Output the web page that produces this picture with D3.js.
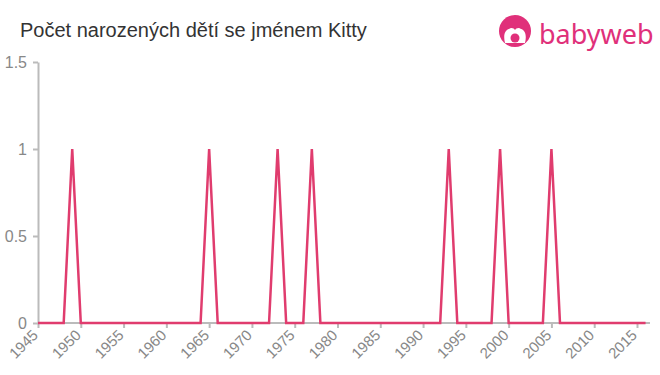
<!DOCTYPE html>
<html lang="cs">
<head>
<meta charset="UTF-8">
<title>Počet narozených dětí se jménem Kitty</title>
<script src="https://cdn.jsdelivr.net/npm/d3@7"></script>
<style>
  body { margin: 0; background: #fff; }
  svg { display: block; font-family: "Liberation Sans", Arial, sans-serif; }
  .axis path, .axis line { stroke: #bbb; stroke-width: 2px; }
  .lbl { fill: #888; }
</style>
</head>
<body>
<svg width="660" height="375"></svg>
<script>
// data
var years  = [1945, 1948, 1949, 1950, 1964, 1965, 1966, 1972, 1973, 1974, 1976, 1977, 1978,
              1992, 1993, 1994, 1998, 1999, 2000, 2004, 2005, 2006, 2016];
var counts = [0, 0, 1, 0, 0, 1, 0, 0, 1, 0, 0, 1, 0,
              0, 1, 0, 0, 1, 0, 0, 1, 0, 0];
var xTicks = [1945, 1950, 1955, 1960, 1965, 1970, 1975, 1980, 1985, 1990, 1995, 2000, 2005, 2010, 2015];
var yTicks = [0, 0.5, 1, 1.5];

var svg = d3.select("svg");
var pink = "#e0307a";

// title
svg.append("text")
  .attr("x", 20).attr("y", 37)
  .style("font-size", "20px")
  .attr("fill", "#333")
  .text("Počet narozených dětí se jménem Kitty");

// logo
var logo = svg.append("g").attr("transform", "translate(515,31)");
logo.append("circle").attr("r", 16).attr("fill", pink);
logo.append("path")
  .attr("d", "M-10,12 C-12,4 -10,-1 -6,-2 C-4,-4 -1,-3 0,-1 C1,-3 4,-4 6,-2 C10,-1 12,4 10,12 Z")
  .attr("fill", "#fff");
logo.append("circle").attr("cx", 0).attr("cy", 7).attr("r", 4.5).attr("fill", pink);
svg.append("text")
  .attr("x", 539).attr("y", 44)
  .style("font-size", "27px")
  .attr("font-family", "'Noto Sans', 'Open Sans', sans-serif")
  .attr("fill", pink)
  .text("babyweb");

// scales
var x = d3.scaleLinear().domain([1945, 2015]).range([38, 637]);
var y = d3.scaleLinear().domain([0, 1.5]).range([323, 62]);

// axes (labels drawn separately)
var gx = svg.append("g").attr("class", "axis")
  .attr("transform", "translate(0,323)")
  .call(d3.axisBottom(x).tickValues(xTicks).tickFormat("").tickSize(5).tickSizeOuter(0));
gx.select(".domain").attr("d", "M38,0H650");

var gy = svg.append("g").attr("class", "axis")
  .attr("transform", "translate(38,0)")
  .call(d3.axisLeft(y).tickValues(yTicks).tickFormat("").tickSize(5).tickSizeOuter(0));

svg.selectAll(".xl").data(xTicks).enter().append("text")
  .attr("class", "lbl")
  .attr("text-anchor", "end")
  .style("font-size", "15px")
  .attr("transform", function(d) { return "translate(" + (x(d) + 1) + ",336) rotate(-45)"; })
  .text(function(d) { return d; });

svg.selectAll(".yl").data(yTicks).enter().append("text")
  .attr("class", "lbl")
  .attr("text-anchor", "end")
  .style("font-size", "16px")
  .attr("x", 27)
  .attr("y", function(d) { return y(d); })
  .attr("dy", "0.35em")
  .text(function(d) { return d; });

// line
var line = d3.line()
  .x(function(d, i) { return x(years[i]); })
  .y(function(d) { return y(d); });

svg.append("path")
  .datum(counts)
  .attr("d", line)
  .attr("fill", "none")
  .attr("stroke", "#e03c6e")
  .attr("stroke-width", 2.5)
  .attr("stroke-linejoin", "miter");
</script>
</body>
</html>
